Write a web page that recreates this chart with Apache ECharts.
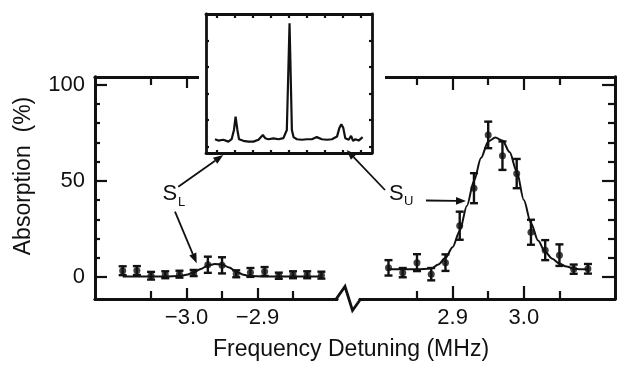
<!DOCTYPE html>
<html>
<head>
<meta charset="utf-8">
<script src="https://cdn.jsdelivr.net/npm/echarts@6/dist/echarts.min.js"></script>
<style>
html, body { margin: 0; padding: 0; background: #fff; }
#chart { width: 617px; height: 366px; }
</style>
</head>
<body>
<div id="chart"></div>
<script>
// measured points, left line (S_L) and right line (S_U)
const leftX = [-3.09, -3.07, -3.05, -3.03, -3.01, -2.99, -2.97, -2.95, -2.93, -2.91, -2.89, -2.87, -2.85, -2.83, -2.81]
const leftY = [3.3, 3.4, 0.7, 1.2, 1.5, 2.1, 6.4, 6.1, 1.7, 2.4, 2.9, 0.7, 1.2, 1.2, 1.0]
const leftErr = [2.3, 2.3, 2.0, 1.8, 1.8, 1.6, 4.2, 4.2, 1.8, 2.3, 2.3, 1.6, 1.8, 1.8, 1.8]
const leftFitX = [-3.09, -3.07, -3.05, -3.03, -3.01, -3.00, -2.99, -2.98, -2.97, -2.96, -2.95, -2.94, -2.93, -2.92, -2.91, -2.89, -2.87, -2.85, -2.83, -2.81]
const leftFitY = [0.3, 0.3, 0.3, 0.3, 0.5, 1.2, 2.4, 4.2, 6.0, 6.8, 6.5, 5.0, 2.8, 1.2, 0.5, 0.3, 0.3, 0.3, 0.3, 0.3]

const rightX = [2.81, 2.83, 2.85, 2.87, 2.89, 2.91, 2.93, 2.95, 2.97, 2.99, 3.01, 3.03, 3.05, 3.07, 3.09]
const rightY = [4.8, 2.3, 7.5, 1.5, 7.5, 26.7, 46.2, 73.9, 63.1, 53.8, 23.3, 14.0, 11.4, 4.1, 4.3]
const rightErr = [4.0, 2.4, 4.4, 3.2, 4.3, 7.3, 7.8, 6.9, 7.4, 7.6, 6.5, 5.2, 5.6, 2.4, 2.5]
const rightFitX = [2.81, 2.83, 2.85, 2.87, 2.88, 2.89, 2.90, 2.91, 2.92, 2.93, 2.94, 2.95, 2.96, 2.97, 2.98, 2.99, 3.00, 3.01, 3.02, 3.03, 3.04, 3.05, 3.06, 3.07, 3.08, 3.09]
const rightFitY = [4, 4, 4, 4.5, 6.5, 10, 15.5, 24, 37, 50, 62, 70.5, 72.5, 71, 65, 55, 40, 28, 19, 13, 9.5, 7, 5.5, 4.5, 4, 4]

// inset spectrum
const insetX = [-4.10, -3.92, -3.64, -3.36, -3.18, -3.05, -2.96, -2.86, -2.77, -2.53, -2.25, -1.97, -1.69, -1.45, -1.32, -1.14, -0.86, -0.58, -0.31, -0.12, 0.03, 0.16, 0.25, 0.44, 0.71, 0.99, 1.27, 1.54, 1.82, 2.10, 2.38, 2.66, 2.79, 2.90, 3.01, 3.12, 3.31, 3.44, 3.55, 3.68, 3.86, 4.08]
const insetY = [0.27, 0.22, 0.25, 0.18, 0.27, 0.62, 1.12, 0.62, 0.27, 0.21, 0.18, 0.18, 0.25, 0.43, 0.31, 0.27, 0.30, 0.27, 0.31, 0.62, 4.65, 0.62, 0.35, 0.27, 0.25, 0.27, 0.27, 0.35, 0.27, 0.25, 0.27, 0.37, 0.69, 0.84, 0.69, 0.31, 0.25, 0.40, 0.21, 0.27, 0.22, 0.35]

// ticks
const yMajor = [0, 50, 100]
const yMinor = [10, 20, 30, 40, 60, 70, 80, 90]
const leftMajor = [-3.0, -2.9]
const leftMinor = [-3.05, -2.95, -2.85]
const rightMajor = [2.9, 3.0]
const rightMinor = [2.85, 2.95, 3.05]
const insetXTicks = [-4, -3, -2, -1, 0, 1, 2, 3, 4]
const insetYTicks = [0, 1, 2, 3, 4]

const ink = '#111'
const font = 'Liberation Sans'
const Y_MIN = -11.4, Y_MAX = 104

const fmtX = (v) => (v < 0 ? '\u2212' : '') + Math.abs(v).toFixed(1)

const xAx = (gridIndex, min, max, position, ticks, len, labels, z) => ({
  type: 'value', gridIndex, min, max, position, z: z || 0,
  axisLine: { show: true, onZero: false, lineStyle: { color: ink, width: 2.8 } },
  axisTick: { show: true, inside: true, length: len, customValues: ticks, lineStyle: { color: ink, width: 2.2 } },
  axisLabel: labels
    ? { show: true, customValues: ticks, margin: 8, color: ink, fontSize: 22, fontFamily: font, formatter: fmtX }
    : { show: false },
  splitLine: { show: false },
})
const yAx = (gridIndex, min, max, position, ticks, len, labels, z) => ({
  type: 'value', gridIndex, min, max, position, z: z || 0,
  axisLine: { show: true, onZero: false, lineStyle: { color: ink, width: 2.8 } },
  axisTick: { show: true, inside: true, length: len, customValues: ticks, lineStyle: { color: ink, width: 2.2 } },
  axisLabel: labels
    ? { show: true, customValues: ticks, margin: 10, color: ink, fontSize: 22, fontFamily: font }
    : { show: false },
  splitLine: { show: false },
})

function errorBar(params, api) {
  const x = api.value(0)
  const lo = api.coord([x, api.value(2)])
  const hi = api.coord([x, api.value(3)])
  const w = 4
  const style = { stroke: ink, lineWidth: 2.4 }
  return {
    type: 'group',
    children: [
      { type: 'line', shape: { x1: lo[0], y1: lo[1], x2: hi[0], y2: hi[1] }, style },
      { type: 'line', shape: { x1: lo[0] - w, y1: lo[1], x2: lo[0] + w, y2: lo[1] }, style },
      { type: 'line', shape: { x1: hi[0] - w, y1: hi[1], x2: hi[0] + w, y2: hi[1] }, style },
    ],
  }
}

function arrow(x1, y1, x2, y2) {
  const a = Math.atan2(y2 - y1, x2 - x1)
  const L = 10, H = 3.8
  const bx = x2 - L * Math.cos(a), by = y2 - L * Math.sin(a)
  const px = -Math.sin(a) * H, py = Math.cos(a) * H
  return {
    type: 'group', z: 30,
    children: [
      { type: 'line', z: 30, shape: { x1, y1, x2: bx, y2: by }, style: { stroke: ink, lineWidth: 1.8 } },
      { type: 'polygon', z: 30, shape: { points: [[x2, y2], [bx + px, by + py], [bx - px, by - py]] }, style: { fill: ink } },
    ],
  }
}

const text = (str, x, y, size, extra) => ({
  type: 'text', x, y, z: 30,
  style: Object.assign({ text: str, font: size + 'px "' + font + '"', fill: ink, textAlign: 'left', textVerticalAlign: 'middle' }, extra || {}),
})

const pts = (xs, ys) => xs.map((x, i) => [x, ys[i]])
const bars = (xs, ys, es) => xs.map((x, i) => [x, ys[i], ys[i] - es[i], ys[i] + es[i]])

const chart = echarts.init(document.getElementById('chart'), null, { renderer: 'canvas' })
chart.setOption({
  animation: false,
  backgroundColor: '#fff',
  grid: [
    { left: 95, top: 77, width: 242, height: 222 },
    { left: 360, top: 77, width: 255, height: 222 },
    { left: 206, top: 14, width: 166, height: 139 },
  ],
  xAxis: [
    xAx(0, -3.129, -2.788, 'bottom', leftMajor, 11, true),
    xAx(0, -3.129, -2.788, 'bottom', leftMinor, 8, false),
    xAx(0, -3.129, -2.788, 'top', leftMajor, 11, false),
    xAx(0, -3.129, -2.788, 'top', leftMinor, 8, false),
    xAx(1, 2.77, 3.128, 'bottom', rightMajor, 13, true),
    xAx(1, 2.77, 3.128, 'bottom', rightMinor, 8, false),
    xAx(1, 2.77, 3.128, 'top', rightMajor, 13, false),
    xAx(1, 2.77, 3.128, 'top', rightMinor, 8, false),
    xAx(2, -4.6, 4.6, 'bottom', insetXTicks, 3, false, 20),
    xAx(2, -4.6, 4.6, 'top', insetXTicks, 4, false, 20),
  ],
  yAxis: [
    yAx(0, Y_MIN, Y_MAX, 'left', yMajor, 12, true),
    yAx(0, Y_MIN, Y_MAX, 'left', yMinor, 5, false),
    yAx(1, Y_MIN, Y_MAX, 'right', yMajor, 13, false),
    yAx(1, Y_MIN, Y_MAX, 'right', yMinor, 7, false),
    yAx(2, -0.25, 5, 'left', insetYTicks, 3, false, 20),
    yAx(2, -0.25, 5, 'right', insetYTicks, 3, false, 20),
  ],
  series: [
    {
      type: 'line', xAxisIndex: 0, yAxisIndex: 0, data: pts(leftFitX, leftFitY),
      showSymbol: false, smooth: 0.3, smoothMonotone: 'x', lineStyle: { color: ink, width: 2 },
    },
    {
      type: 'scatter', xAxisIndex: 0, yAxisIndex: 0, data: pts(leftX, leftY),
      symbolSize: 7, itemStyle: { color: ink },
    },
    {
      type: 'custom', xAxisIndex: 0, yAxisIndex: 0, data: bars(leftX, leftY, leftErr),
      renderItem: errorBar, encode: { x: 0, y: [1, 2, 3] },
    },
    {
      type: 'line', xAxisIndex: 4, yAxisIndex: 2, data: pts(rightFitX, rightFitY),
      showSymbol: false, smooth: 0.3, smoothMonotone: 'x', lineStyle: { color: ink, width: 2 },
    },
    {
      type: 'scatter', xAxisIndex: 4, yAxisIndex: 2, data: pts(rightX, rightY),
      symbolSize: 7, itemStyle: { color: ink },
    },
    {
      type: 'custom', xAxisIndex: 4, yAxisIndex: 2, data: bars(rightX, rightY, rightErr),
      renderItem: errorBar, encode: { x: 0, y: [1, 2, 3] },
    },
    {
      type: 'line', xAxisIndex: 8, yAxisIndex: 4, data: pts(insetX, insetY), z: 20,
      showSymbol: false, lineStyle: { color: ink, width: 2.2 },
    },
  ],
  graphic: [
    // inset hides the main frame behind it
    { type: 'rect', z: 10, shape: { x: 199, y: 66, width: 186, height: 28 }, style: { fill: '#fff' } },
    // axis break
    { type: 'polyline', z: 10, shape: { points: [[336, 299.3], [345, 286.5], [352.5, 310.5], [360.5, 299.3]] }, style: { stroke: ink, lineWidth: 2.8, fill: null } },
    text('S', 162.5, 194, 22),
    text('L', 178, 202.5, 13),
    text('S', 389, 194, 22),
    text('U', 404, 201.5, 13),
    arrow(178.3, 186.7, 223.3, 155),
    arrow(175, 211.7, 196.7, 263.3),
    arrow(385, 190, 346.7, 150),
    arrow(426, 200.5, 466, 201),
    text('Frequency Detuning (MHz)', 351, 350, 23, { textAlign: 'center' }),
    { type: 'text', x: 24, y: 176, rotation: Math.PI / 2, z: 30,
      style: { text: 'Absorption  (%)', font: '23px "' + font + '"', fill: ink, textAlign: 'center', textVerticalAlign: 'middle' } },
  ],
})
</script>
</body>
</html>
